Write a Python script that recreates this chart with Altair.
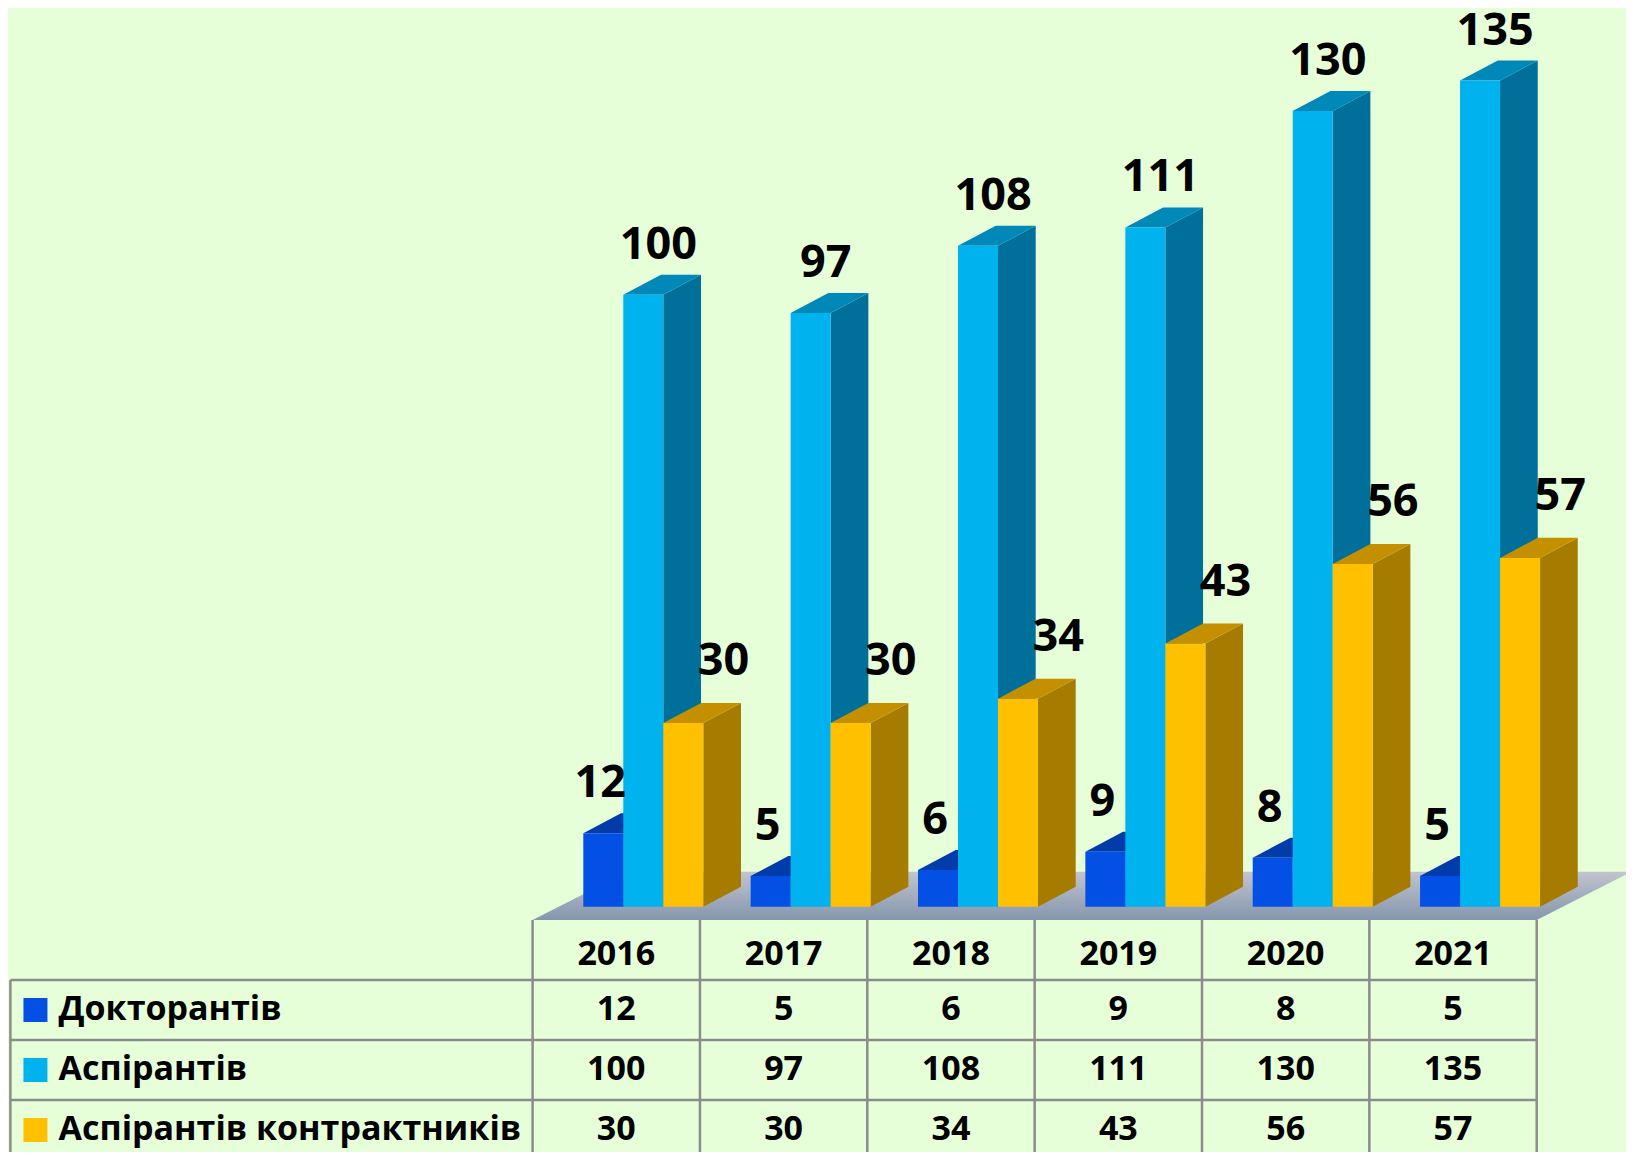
import altair as alt
import pandas as pd

# ---------------- data ----------------
years = ["2016", "2017", "2018", "2019", "2020", "2021"]
series = ["Докторантів", "Аспірантів", "Аспірантів контрактників"]
doktorantiv = [12, 5, 6, 9, 8, 5]
aspirantiv = [100, 97, 108, 111, 130, 135]
kontraktnykiv = [30, 30, 34, 43, 56, 57]
values = [doktorantiv, aspirantiv, kontraktnykiv]

# ---------------- style / layout constants ----------------
BG = "#E6FFD9"
FONT = "Open Sans"
front_col = ["#0450E4", "#00B2EE", "#FFC000"]
top_col = ["#023CAA", "#0088B8", "#C49000"]
side_col = ["#0236A0", "#00709A", "#A57C00"]
LINE = "#8C8C8C"

X0 = 0.303      # left of first bar within a year slot (slot units)
BW = 0.239      # front face width
DX = 0.2253     # depth in x (slot units)
DY = 3.27       # depth in y (value units)
FLOOR_FRONT = -2.17
FLOOR_BACK = 5.72
FLOOR_DX = 0.5677
XDOM = [-3.1347, 6.5336]
YDOM = [-2.17, 146.85]
label_dx = [-0.018, 0.09, 0.24]
label_dy = [-16, -16, -28]

# ---------------- geometry tables ----------------
front_rows, side_rows, top_rows, label_rows = [], [], [], []
for s, name in enumerate(series):
    for i, yr in enumerate(years):
        v = values[s][i]
        xl = i + X0 + s * BW
        xr = xl + BW
        bid = f"{s}-{i}"
        front_rows.append(dict(s=s, year=yr, v=v, xl=xl, xr=xr))
        side_rows += [
            dict(s=s, bid=bid, x=xr, y=v, y2=0),
            dict(s=s, bid=bid, x=xr + DX, y=v + DY, y2=DY),
        ]
        top_rows += [
            dict(s=s, bid=bid, x=xl, y=v, y2=v),
            dict(s=s, bid=bid, x=xl + DX, y=v + DY, y2=v),
            dict(s=s, bid=bid, x=xr, y=v + DY, y2=v),
            dict(s=s, bid=bid, x=xr + DX, y=v + DY, y2=v + DY),
        ]
        label_rows.append(dict(s=s, x=(xl + xr) / 2 + label_dx[s], y=v + DY, label=str(v)))

front_df = pd.DataFrame(front_rows)
side_df = pd.DataFrame(side_rows)
top_df = pd.DataFrame(top_rows)
label_df = pd.DataFrame(label_rows)

n = len(years)
floor_df = pd.DataFrame([
    dict(x=0, y=FLOOR_FRONT, y2=FLOOR_FRONT),
    dict(x=FLOOR_DX, y=FLOOR_BACK, y2=FLOOR_FRONT),
    dict(x=n, y=FLOOR_BACK, y2=FLOOR_FRONT),
    dict(x=n + FLOOR_DX, y=FLOOR_BACK, y2=FLOOR_BACK),
])

xs = alt.Scale(domain=XDOM, nice=False, zero=False)
ys = alt.Scale(domain=YDOM, nice=False, zero=False)

floor = alt.Chart(floor_df).mark_area(
    color=alt.Gradient(
        gradient="linear",
        stops=[alt.GradientStop(color="#C2C4CE", offset=0),
               alt.GradientStop(color="#8496AD", offset=1)],
        x1=1, x2=1, y1=0, y2=1),
    clip=True,
).encode(
    x=alt.X("x:Q", scale=xs, axis=None),
    y=alt.Y("y:Q", scale=ys, axis=None),
    y2="y2:Q",
)

layers = [floor]
for s in range(len(series)):
    side = alt.Chart(side_df).transform_filter(alt.datum.s == s).mark_area(
        color=side_col[s], clip=True).encode(
        x=alt.X("x:Q", scale=xs, axis=None),
        y=alt.Y("y:Q", scale=ys, axis=None),
        y2="y2:Q",
        detail="bid:N",
    )
    top = alt.Chart(top_df).transform_filter(alt.datum.s == s).mark_area(
        color=top_col[s], clip=True).encode(
        x=alt.X("x:Q", scale=xs, axis=None),
        y=alt.Y("y:Q", scale=ys, axis=None),
        y2="y2:Q",
        detail="bid:N",
    )
    front = alt.Chart(front_df).transform_filter(alt.datum.s == s).mark_rect(
        color=front_col[s], clip=True).encode(
        x=alt.X("xl:Q", scale=xs, axis=None),
        x2="xr:Q",
        y=alt.Y("v:Q", scale=ys, axis=None),
        y2=alt.datum(0),
    )
    layers += [side, top, front]

for s in range(len(series)):
    lab = alt.Chart(label_df).transform_filter(alt.datum.s == s).mark_text(
        font=FONT, fontSize=45, fontWeight="bold", color="black",
        baseline="alphabetic", align="center", dy=label_dy[s], clip=True,
    ).encode(
        x=alt.X("x:Q", scale=xs, axis=None),
        y=alt.Y("y:Q", scale=ys, axis=None),
        text="label:N",
    )
    layers.append(lab)

bars = alt.layer(*layers).properties(width=1618, height=912)

# ---------------- data table ----------------
TROWS = 232 / 60.0
ts = alt.Scale(domain=[0, TROWS], nice=False, zero=False, reverse=True)
LEFT = -3.1204

header_df = pd.DataFrame([dict(x=i + 0.5, y=0.58, t=yr) for i, yr in enumerate(years)])
cell_df = pd.DataFrame([
    dict(x=i + 0.5, y=s + 1.5, t=str(values[s][i]))
    for s in range(len(series)) for i in range(n)
])
legend_df = pd.DataFrame([
    dict(x=-2.8326, xs=-2.9707, y=s + 1.5, t=name, s=s) for s, name in enumerate(series)
])
lines_df = pd.DataFrame(
    [dict(x=LEFT, x2=n, y=r, y2=r) for r in (1, 2, 3)]
    + [dict(x=k, x2=k, y=0, y2=TROWS) for k in range(n + 1)]
    + [dict(x=LEFT, x2=LEFT, y=1, y2=TROWS)]
)

grid = alt.Chart(lines_df).mark_rule(color=LINE, strokeWidth=2.5, clip=True).encode(
    x=alt.X("x:Q", scale=xs, axis=None), x2="x2:Q",
    y=alt.Y("y:Q", scale=ts, axis=None), y2="y2:Q",
)
txt_kw = dict(font=FONT, fontSize=34, fontWeight="bold", color="black", baseline="middle", clip=True)
header = alt.Chart(header_df).mark_text(align="center", **txt_kw).encode(
    x=alt.X("x:Q", scale=xs, axis=None), y=alt.Y("y:Q", scale=ts, axis=None), text="t:N")
cells = alt.Chart(cell_df).mark_text(align="center", **txt_kw).encode(
    x=alt.X("x:Q", scale=xs, axis=None), y=alt.Y("y:Q", scale=ts, axis=None), text="t:N")
leg_text = alt.Chart(legend_df).mark_text(align="left", **txt_kw).encode(
    x=alt.X("x:Q", scale=xs, axis=None), y=alt.Y("y:Q", scale=ts, axis=None), text="t:N")
leg_sq = alt.Chart(legend_df).mark_square(size=576, opacity=1).encode(
    x=alt.X("xs:Q", scale=xs, axis=None), y=alt.Y("y:Q", scale=ts, axis=None),
    color=alt.Color("t:N", scale=alt.Scale(domain=series, range=front_col), legend=None),
)

table = alt.layer(grid, header, cells, leg_sq, leg_text).properties(width=1618, height=232)

chart = alt.vconcat(bars, table, spacing=0).properties(
    padding=0, background=BG
).configure_view(stroke=None)

chart.save("out.html", embed_options={"renderer": "svg", "actions": False})
